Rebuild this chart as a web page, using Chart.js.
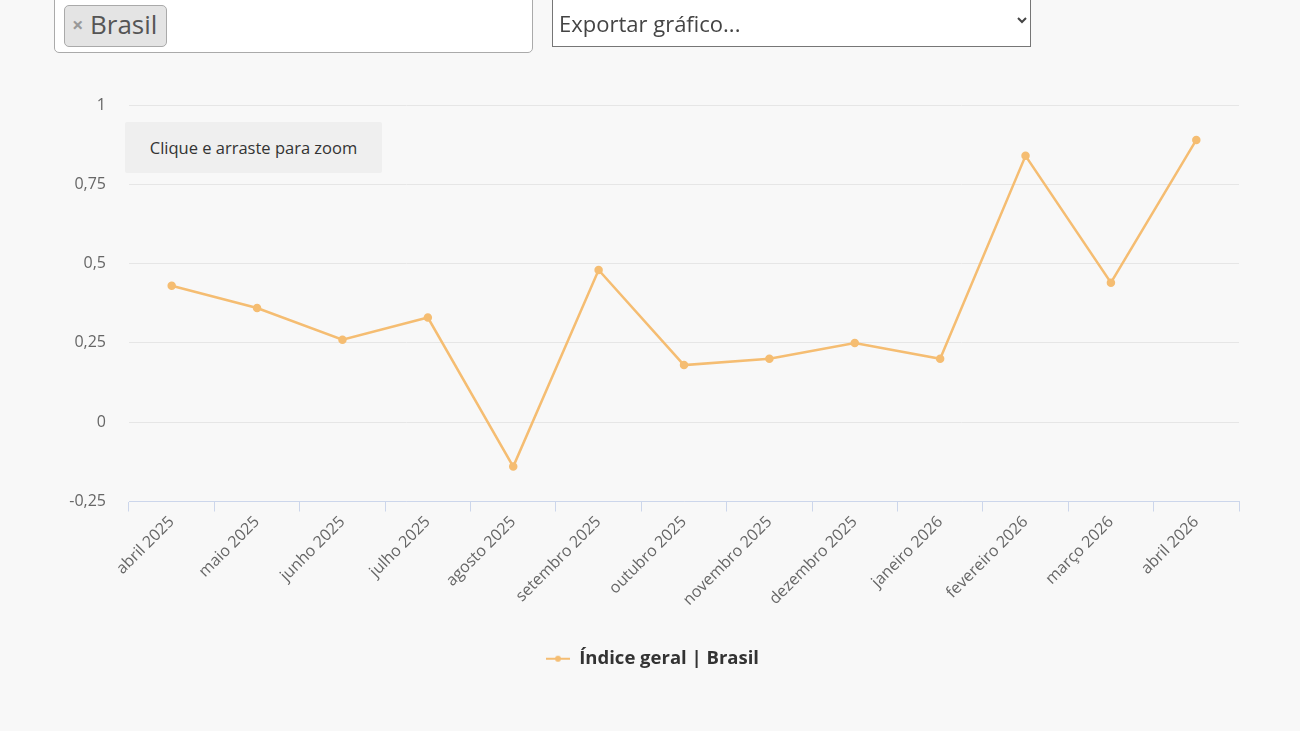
<!DOCTYPE html>
<html>
<head>
<meta charset="utf-8">
<script src="https://cdn.jsdelivr.net/npm/chart.js@4"></script>
<style>
html,body{margin:0;padding:0;background:#f8f8f8;width:1300px;height:731px;overflow:hidden;font-family:"Open Sans",sans-serif;}
#wrap{position:absolute;left:0;top:0;width:1300px;height:731px;}
#c{position:absolute;left:0;top:0;}
.sel2{position:absolute;left:54px;top:-8px;width:479px;height:61px;background:#fff;border:1px solid #aaa;border-radius:5px;box-sizing:border-box;}
.tag{position:absolute;left:9px;top:12px;height:42px;width:103px;background:#e4e4e4;border:1px solid #aaa;border-radius:5px;box-sizing:border-box;color:#555;font-size:26px;line-height:38px;}
.tag .x{position:absolute;left:7px;top:0;font-size:20px;color:#999;font-weight:bold;}
.tag .t{position:absolute;left:25px;top:-1px;}
select{position:absolute;left:552px;top:-6px;width:479px;height:53px;background:#fff;border:1px solid #767676;border-radius:0;font-family:"Open Sans",sans-serif;font-size:22px;color:#444;padding:4px 2px 0 2px;}
.zoom{position:absolute;left:125px;top:122px;width:257px;height:51px;background:#efefef;border-radius:2px;color:#333;font-size:16.5px;line-height:51px;text-align:center;}
</style>
</head>
<body>
<div id="wrap">
<canvas id="c" width="1300" height="731"></canvas>
<div class="sel2"><div class="tag"><span class="x">×</span><span class="t">Brasil</span></div></div>
<select><option>Exportar gráfico...</option></select>
<div class="zoom">Clique e arraste para zoom</div>
</div>
<script>
const categories = ["abril 2025","maio 2025","junho 2025","julho 2025","agosto 2025","setembro 2025","outubro 2025","novembro 2025","dezembro 2025","janeiro 2026","fevereiro 2026","março 2026","abril 2026"];
const indiceGeral = [0.43,0.36,0.26,0.33,-0.14,0.48,0.18,0.20,0.25,0.20,0.84,0.44,0.89];
const seriesName = "Índice geral | Brasil";
const yTicks = [-0.25,0,0.25,0.5,0.75,1];

const lineColor = "#f5bd72";
const mk = document.createElement('canvas');
mk.width = 24; mk.height = 10;
(function(){const g=mk.getContext('2d');g.strokeStyle=lineColor;g.lineWidth=2;g.beginPath();g.moveTo(0,5);g.lineTo(24,5);g.stroke();g.fillStyle=lineColor;g.beginPath();g.arc(12,5,3,0,Math.PI*2);g.fill();})();

new Chart(document.getElementById('c'), {
  type: 'line',
  data: {
    labels: categories,
    datasets: [{
      label: seriesName,
      data: indiceGeral,
      borderColor: lineColor,
      backgroundColor: lineColor,
      borderWidth: 2.5,
      pointRadius: 3,
      pointHoverRadius: 4,
      tension: 0
    }]
  },
  options: {
    responsive: false,
    animation: false,
    layout: { padding: { left: 66, right: 61, top: 105, bottom: 53 } },
    plugins: {
      tooltip: { enabled: false },
      legend: {
        position: 'bottom',
        labels: {
          usePointStyle: true,
          pointStyle: mk,
          pointStyleWidth: 24,
          padding: 10,
          color: '#333',
          font: { family: 'Open Sans', size: 18.5, weight: 'bold' }
        }
      }
    },
    scales: {
      x: {
        offset: true,
        grid: { offset: true, drawOnChartArea: false, drawTicks: true, tickLength: 10, color: '#ccd6eb' },
        border: { display: true, color: '#ccd6eb', width: 1 },
        ticks: { color: '#666', font: { family: 'Open Sans', size: 16 }, minRotation: 45, maxRotation: 45, autoSkip: false, padding: 1 },
        afterFit: s => { s.height = 138; }
      },
      y: {
        min: -0.25, max: 1,
        afterBuildTicks: s => { s.ticks = yTicks.map(v => ({ value: v })); },
        grid: { color: '#e6e6e6', drawTicks: false, lineWidth: 1 },
        border: { display: false },
        ticks: {
          color: '#666', padding: 23,
          font: { family: 'Open Sans', size: 16 },
          callback: v => String(v).replace('.', ',')
        },
        afterFit: s => { s.width = 63; }
      }
    }
  }
});
</script>
</body>
</html>
